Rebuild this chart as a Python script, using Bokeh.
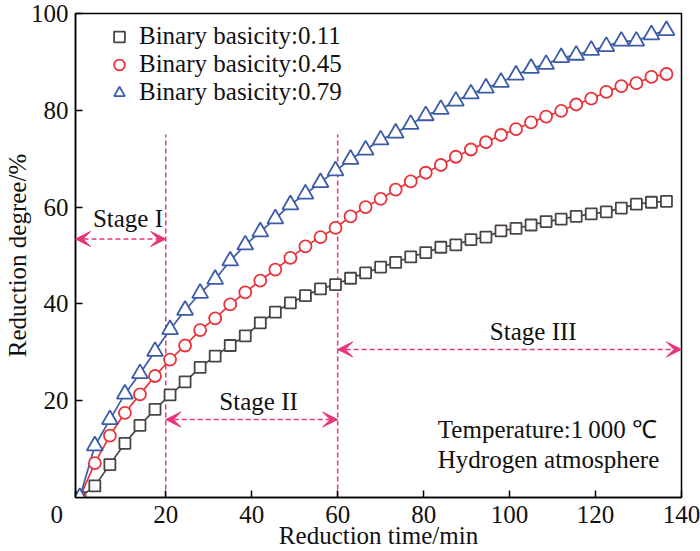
from bokeh.plotting import figure
from bokeh.models import (Range1d, FixedTicker, Label, Arrow, VeeHead, Legend,
                          LegendItem)
from bokeh.embed import file_html
from bokeh.resources import INLINE

# ---------------- data ----------------
time_min = [0, 3.5, 7, 10.5, 14, 17.5, 21, 24.5, 28, 31.5, 35, 38.5, 42, 45.5,
            49, 52.5, 56, 59.5, 63, 66.5, 70, 73.5, 77, 80.5, 84, 87.5, 91,
            94.5, 98, 101.5, 105, 108.5, 112, 115.5, 119, 122.5, 126, 129.5,
            133, 136.5]

basicity_011 = [0, 2.4, 6.8, 11.2, 14.9, 18.2, 21.2, 23.9, 26.9, 29.2, 31.4,
                33.4, 36.1, 38.3, 40.2, 41.7, 43.1, 44.0, 45.3, 46.4, 47.6,
                48.6, 49.7, 50.6, 51.7, 52.2, 53.3, 53.8, 55.1, 55.6, 56.3,
                57.0, 57.5, 58.1, 58.6, 59.0, 59.8, 60.6, 61.0, 61.2]

basicity_045 = [0, 7.1, 12.8, 17.5, 21.3, 25.1, 28.5, 31.4, 34.6, 37.0, 39.9,
                42.4, 44.8, 47.1, 49.5, 51.9, 53.8, 55.7, 58.1, 60.0, 61.7,
                63.6, 65.3, 67.1, 68.7, 70.4, 71.9, 73.4, 74.9, 76.1, 77.5,
                78.7, 79.9, 81.2, 82.4, 83.8, 85.0, 85.6, 86.9, 87.5]

basicity_079 = [0, 10.7, 16.1, 21.4, 25.6, 30.2, 34.7, 38.7, 42.2, 45.1, 48.9,
                52.2, 54.9, 57.6, 60.5, 62.7, 65.1, 67.5, 69.9, 71.8, 73.9,
                75.3, 77.1, 78.9, 80.2, 81.9, 83.4, 84.6, 85.8, 87.3, 88.7,
                89.5, 90.9, 91.4, 92.4, 93.2, 94.3, 94.3, 95.6, 96.5]

series_labels = ["Binary basicity:0.11", "Binary basicity:0.45",
                 "Binary basicity:0.79"]
x_ticks = [-1, 20, 40, 60, 80, 100, 120, 140]
x_tick_labels = {-1: "0\u2003\u2002"}
y_ticks = [20, 40, 60, 80, 100]
stage_bounds = [20, 60]
stage_names = ["Stage I", "Stage II", "Stage III"]
note_lines = ["Temperature:1\u2009000 \u2103", "Hydrogen atmosphere"]

# ---------------- style ----------------
FONT = "Liberation Serif"
FS = "25px"
TXT = "#111111"
PINK = "#e6357b"
colors = ["#4a4542", "#e8343a", "#3d5ba8"]
markers = ["square", "circle", "triangle"]
msizes = [11, 12, 16]

p = figure(width=700, height=551, x_range=Range1d(-1, 140),
           y_range=Range1d(0, 100), output_backend="svg",
           toolbar_location=None, min_border_left=73, min_border_right=19,
           min_border_top=13, min_border_bottom=10)

p.xgrid.grid_line_color = None
p.ygrid.grid_line_color = None
p.outline_line_color = "black"
p.outline_line_width = 1.5
p.outline_line_alpha = 1
p.background_fill_color = "white"
p.border_fill_color = "white"

for ax in (p.xaxis[0], p.yaxis[0]):
    ax.axis_line_width = 1.5
    ax.axis_line_color = "black"
    ax.major_tick_in = 7
    ax.major_tick_out = 0
    ax.major_tick_line_width = 1.5
    ax.minor_tick_line_color = None
    ax.major_label_text_font = FONT
    ax.major_label_text_font_size = FS
    ax.major_label_text_color = TXT
    ax.axis_label_text_font = FONT
    ax.axis_label_text_font_size = FS
    ax.axis_label_text_font_style = "normal"
    ax.axis_label_text_color = TXT

p.xaxis.ticker = FixedTicker(ticks=x_ticks)
p.xaxis.major_label_overrides = x_tick_labels
p.yaxis.ticker = FixedTicker(ticks=y_ticks)
p.xaxis.axis_label = "Reduction time/min"
p.yaxis.axis_label = "Reduction degree/%"
p.xaxis.major_label_standoff = 3
p.xaxis.axis_label_standoff = -9
p.yaxis.major_label_standoff = 7
p.yaxis.axis_label_standoff = -3

# ---------------- stage annotations ----------------
p.segment(x0=stage_bounds, y0=[0, 0], x1=stage_bounds, y1=[75, 75],
          line_color=PINK, line_width=1.5, line_dash="5 3")

def head():
    return VeeHead(size=15, fill_color=PINK, line_color=PINK, line_width=1)

arrow_spans = [(-1, stage_bounds[0], 53.4),
               (stage_bounds[0], stage_bounds[1], 16.1),
               (stage_bounds[1], 140, 30.6)]
for x0, x1, yy in arrow_spans:
    p.add_layout(Arrow(start=head(), end=head(), x_start=x0, y_start=yy,
                       x_end=x1, y_end=yy, line_color=PINK, line_width=1.5,
                       line_dash="5 3"))

stage_text_pos = [(11.2, 57.6), (41.6, 19.8), (105.5, 34.4)]
for name, (tx, ty) in zip(stage_names, stage_text_pos):
    p.add_layout(Label(x=tx, y=ty, text=name, text_align="center",
                       text_baseline="middle", text_font=FONT,
                       text_font_size=FS, text_color=TXT))

for txt, ty in zip(note_lines, [14.0, 7.8]):
    p.add_layout(Label(x=83.3, y=ty, text=txt, text_align="left",
                       text_baseline="middle", text_font=FONT,
                       text_font_size=FS, text_color=TXT))

# ---------------- series ----------------
series = [basicity_011, basicity_045, basicity_079]
scatter_r = []
for vals, c in zip(series, colors):
    p.line(time_min, vals, line_color=c, line_width=1.7)
for vals, c, m, s in zip(series, colors, markers, msizes):
    r = p.scatter(time_min, vals, marker=m, size=s, line_color=c,
                  fill_color="white", line_width=1.8)
    scatter_r.append(r)

legend = Legend(items=[LegendItem(label=lab, renderers=[r])
                       for lab, r in zip(series_labels, scatter_r)],
                location=(30, 391), label_text_font=FONT,
                label_text_font_size=FS, label_text_color=TXT,
                glyph_width=28, glyph_height=27, label_standoff=6,
                spacing=0, padding=0, margin=0, border_line_color=None,
                background_fill_alpha=0)
p.add_layout(legend)

open("out.html", "w").write(file_html(p, INLINE))
